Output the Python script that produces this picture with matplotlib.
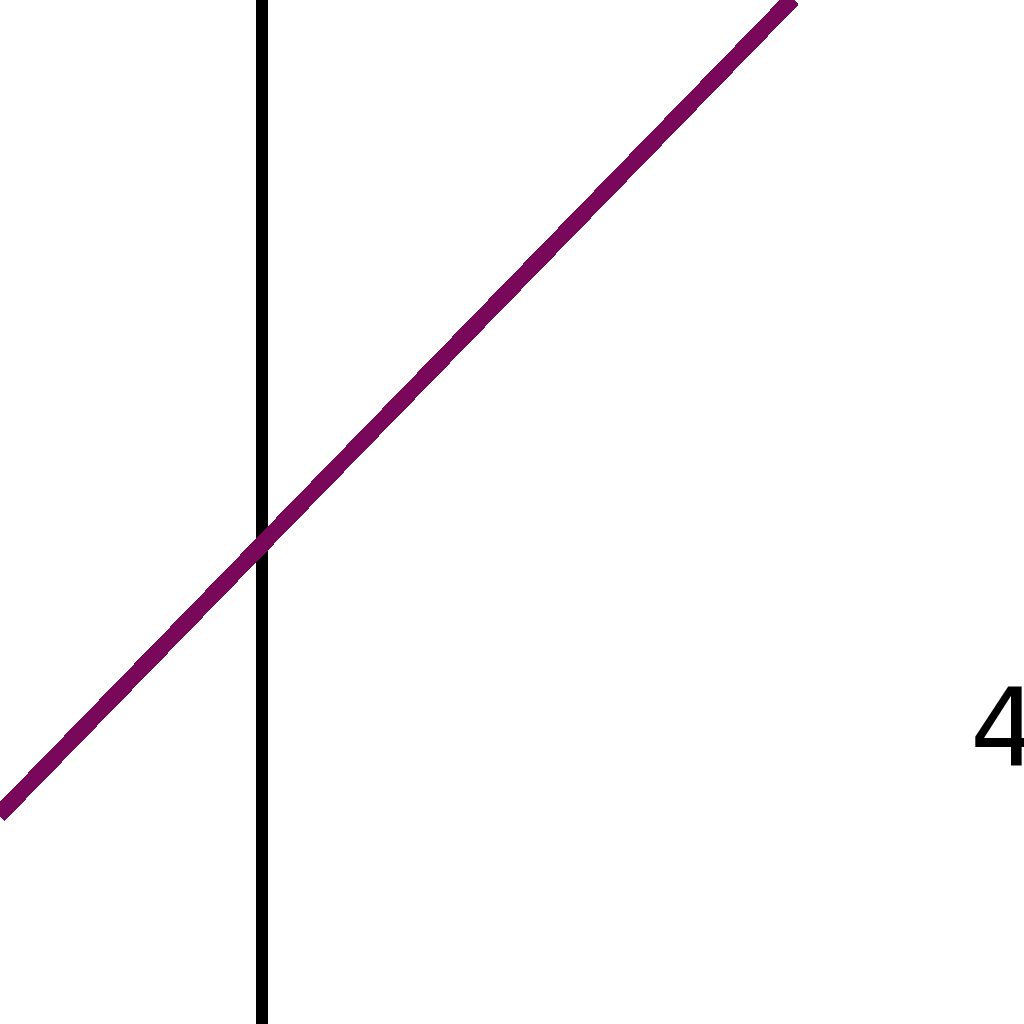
import matplotlib.pyplot as plt

# zoomed-in window of a line plot
line_x = [-2.7, 7.9]
line_y = [-2.79, 8.11]
axis_x = 0.0
label_text = "4"
label_pos = (7.08, -1.93)

fig = plt.figure(figsize=(10.24, 10.24), dpi=100)
ax = fig.add_axes([0, 0, 1, 1])
ax.set_xlim(-2.62, 7.62)
ax.set_ylim(-4.81, 5.43)
ax.axis("off")

ax.axvline(axis_x, color="black", linewidth=7.5, antialiased=False)
ax.plot(line_x, line_y, color="#7a085a", linewidth=11, antialiased=False,
        solid_capstyle="butt")
ax.text(label_pos[0], label_pos[1], label_text, fontsize=78, color="black",
        va="center", ha="left", fontweight="normal")

fig.savefig("out.png", dpi=100)
